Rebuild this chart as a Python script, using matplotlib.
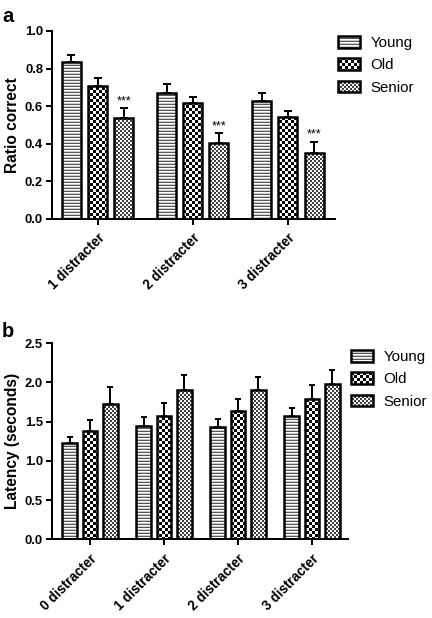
import matplotlib
matplotlib.use('Agg')
import matplotlib.pyplot as plt
import matplotlib.hatch as mhatch
from matplotlib.path import Path
import numpy as np

# ---------------- data ----------------
series = ['Young', 'Old', 'Senior']

groups_a = ['1 distracter', '2 distracter', '3 distracter']
ratio_young = [0.835, 0.67, 0.625]
ratio_old = [0.705, 0.615, 0.54]
ratio_senior = [0.535, 0.405, 0.35]
ratio_young_err = [0.035, 0.05, 0.045]
ratio_old_err = [0.045, 0.035, 0.035]
ratio_senior_err = [0.055, 0.05, 0.06]
senior_marks_a = ['***', '***', '***']
yticks_a = [0.0, 0.2, 0.4, 0.6, 0.8, 1.0]

groups_b = ['0 distracter', '1 distracter', '2 distracter', '3 distracter']
lat_young = [1.23, 1.445, 1.435, 1.57]
lat_old = [1.385, 1.575, 1.635, 1.79]
lat_senior = [1.72, 1.91, 1.90, 1.98]
lat_young_err = [0.08, 0.11, 0.095, 0.10]
lat_old_err = [0.14, 0.16, 0.16, 0.175]
lat_senior_err = [0.22, 0.19, 0.165, 0.175]
yticks_b = [0.0, 0.5, 1.0, 1.5, 2.0, 2.5]


# ---------------- custom hatch patterns ----------------
def _square(vertices, codes, k, x0, y0, w, h):
    vertices[k:k + 5] = [(x0, y0), (x0 + w, y0), (x0 + w, y0 + h), (x0, y0 + h), (x0, y0)]
    codes[k:k + 5] = [Path.MOVETO, Path.LINETO, Path.LINETO, Path.LINETO, Path.CLOSEPOLY]


class _HLines(mhatch.HatchPatternBase):
    n = 24

    def __init__(self, hatch, density):
        self.on = '-' in hatch
        self.num_vertices = 5 * self.n if self.on else 0

    def set_vertices_and_codes(self, vertices, codes):
        t = 1.3 / 72
        for i in range(self.n):
            _square(vertices, codes, 5 * i, 0.0, i / self.n, 1.0, t)


def _make_checker(char, n):
    class _Checker(mhatch.HatchPatternBase):
        def __init__(self, hatch, density):
            self.cells = ([(i, j) for i in range(n) for j in range(n) if (i + j) % 2 == 0]
                          if char in hatch else [])
            self.num_vertices = 5 * len(self.cells)

        def set_vertices_and_codes(self, vertices, codes):
            s = 1.0 / n
            for k, (i, j) in enumerate(self.cells):
                _square(vertices, codes, 5 * k, i * s, j * s, s, s)
    return _Checker


mhatch._hatch_types[:] = [_HLines, _make_checker('O', 24), _make_checker('o', 36)]

plt.rcParams['font.family'] = ['Liberation Sans', 'DejaVu Sans']
plt.rcParams['hatch.linewidth'] = 0.01

DPI = 72
fig = plt.figure(figsize=(432 / DPI, 618 / DPI), dpi=DPI)

hatches = ['-', 'O', 'o']
hatch_colors = [(0.35, 0.35, 0.35, 1), (0, 0, 0, 1), (0.25, 0.25, 0.25, 1)]


def panel(rect, groups, vals, errs, xlim, ylim, yticks, ylabel, capsize, marks=None,
          legend_xy=None):
    ax = fig.add_axes(rect)
    x = np.arange(len(groups))
    offs = [-0.275, 0.0, 0.275]
    handles = []
    for k in range(3):
        bars = ax.bar(x + offs[k], vals[k], width=0.2, facecolor='white', edgecolor='black',
                      linewidth=2.5, hatch=hatches[k], zorder=2, label=series[k])
        for b in bars:
            b._hatch_color = hatch_colors[k]
        handles.append(bars[0])
        ax.errorbar(x + offs[k], vals[k], yerr=[np.zeros(len(groups)), errs[k]], fmt='none',
                    ecolor='black', elinewidth=2, capsize=capsize, capthick=2, zorder=1.5)
        if marks is not None and k == 2:
            for xi, v, e, m in zip(x + offs[k], vals[k], errs[k], marks):
                ax.annotate(m, (xi, v + e), xytext=(0, 1), textcoords='offset points',
                            ha='center', va='bottom', fontsize=12.5)
    ax.set_xlim(*xlim)
    ax.set_ylim(*ylim)
    ax.set_yticks(yticks)
    ax.set_yticklabels([f'{t:.1f}' for t in yticks], fontsize=13, fontweight='bold')
    ax.set_xticks(x)
    ax.set_xticklabels(groups, rotation=45, ha='right', rotation_mode='anchor',
                       fontsize=13.5, fontweight='bold')
    ax.tick_params(axis='both', direction='out', length=6, width=2, pad=3)
    ax.tick_params(axis='x', pad=6)
    for s in ['top', 'right']:
        ax.spines[s].set_visible(False)
    for s in ['left', 'bottom']:
        ax.spines[s].set_linewidth(2)
    ax.set_ylabel(ylabel, fontsize=15.5, fontweight='bold', labelpad=5)
    lx, ly = legend_xy
    fig.legend(handles, series, loc='upper left',
               bbox_to_anchor=(lx / 432, 1 - ly / 618), bbox_transform=fig.transFigure,
               frameon=False, fontsize=15, borderpad=0, borderaxespad=0,
               handlelength=1.47, handleheight=0.8, handletextpad=0.7, labelspacing=0.55)
    return ax


ax_a = panel([52 / 432, (618 - 219) / 618, 283 / 432, 188 / 618], groups_a,
             [ratio_young, ratio_old, ratio_senior],
             [ratio_young_err, ratio_old_err, ratio_senior_err],
             (-0.479, 2.495), (0, 1.0), yticks_a, 'Ratio correct', 4,
             marks=senior_marks_a, legend_xy=(338, 36))

ax_b = panel([52 / 432, (618 - 539.3) / 618, 296 / 432, 196 / 618], groups_b,
             [lat_young, lat_old, lat_senior],
             [lat_young_err, lat_old_err, lat_senior_err],
             (-0.514, 3.486), (0, 2.5), yticks_b, 'Latency (seconds)', 3,
             legend_xy=(351, 350))

fig.text(2 / 432, 1 - 22 / 618, 'a', fontsize=20, fontweight='bold', va='baseline')
fig.text(2 / 432, 1 - 337 / 618, 'b', fontsize=20, fontweight='bold', va='baseline')

fig.savefig('out.png', dpi=DPI)
